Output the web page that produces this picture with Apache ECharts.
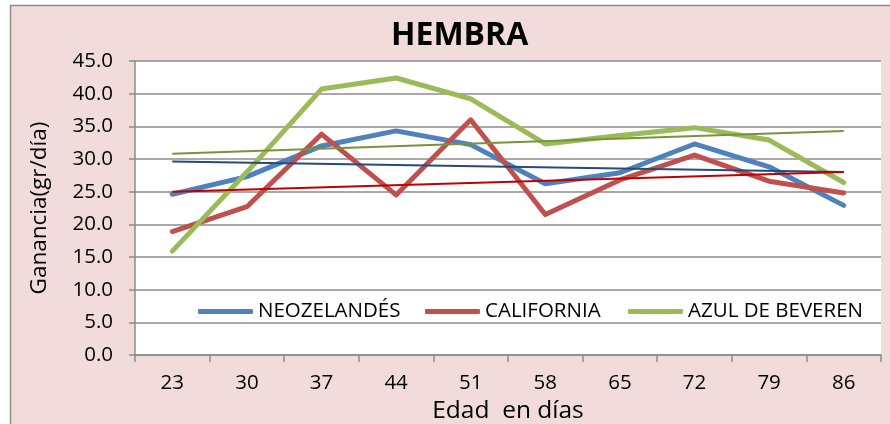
<!DOCTYPE html>
<html>
<head>
<meta charset="utf-8">
<script src="https://cdn.jsdelivr.net/npm/echarts@6/dist/echarts.min.js"></script>
<style>html,body{margin:0;padding:0;background:#fff;}#c{width:890px;height:424px;}</style>
</head>
<body>
<div id="c"></div>
<script>
var categories = ['23','30','37','44','51','58','65','72','79','86'];
var neozelandes = [24.6, 27.3, 32.0, 34.3, 32.2, 26.2, 27.9, 32.3, 28.8, 22.9];
var california  = [18.9, 22.7, 33.8, 24.5, 36.0, 21.5, 26.8, 30.6, 26.6, 24.8];
var azul        = [15.9, 28.0, 40.7, 42.4, 39.2, 32.3, 33.6, 34.8, 32.9, 26.4];
// linear trend lines (read at first and last category)
var trendNeo  = [29.6, null, null, null, null, null, null, null, null, 28.0];
var trendCal  = [25.0, null, null, null, null, null, null, null, null, 28.0];
var trendAzul = [30.8, null, null, null, null, null, null, null, null, 34.3];
var seriesNames = ['NEOZELANDÉS', 'CALIFORNIA', 'AZUL DE BEVEREN'];

var FONT = '"Open Sans", "DejaVu Sans", sans-serif';
var chart = echarts.init(document.getElementById('c'), null, {renderer: 'canvas'});

function legendAt(name, left) {
  return {
    data: [name], left: left, top: 301, orient: 'horizontal', padding: 0,
    icon: 'roundRect', itemWidth: 55, itemHeight: 5, itemGap: 5,
    textStyle: {fontFamily: FONT, fontSize: 20.5, color: '#000'},
    selectedMode: false
  };
}
function dataLine(name, data, color) {
  return {
    name: name, type: 'line', data: data, symbol: 'none',
    lineStyle: {color: color, width: 5, cap: 'round', join: 'round'},
    itemStyle: {color: color}, z: 2, animation: false
  };
}
function trendLine(data, color) {
  return {
    type: 'line', data: data, symbol: 'none', connectNulls: true,
    lineStyle: {color: color, width: 2}, z: 3, silent: true, animation: false
  };
}

chart.setOption({
  animation: false,
  backgroundColor: '#fff',
  graphic: [{
    type: 'rect', z: -10,
    shape: {x: 10.5, y: 5.5, width: 900, height: 440},
    style: {fill: '#F2DCDB', stroke: '#8C8C8C', lineWidth: 1.5}
  }],
  title: {
    text: 'HEMBRA', left: 391, top: 20, padding: 0,
    textStyle: {fontFamily: FONT, fontSize: 32, fontWeight: 'bold', color: '#000'}
  },
  legend: [legendAt(seriesNames[0], 198), legendAt(seriesNames[1], 425), legendAt(seriesNames[2], 628)],
  grid: {left: 135, right: 9, top: 61, bottom: 69, show: true, backgroundColor: '#fff', borderWidth: 0,
    containLabel: false, outerBoundsMode: 'none'},
  xAxis: {
    type: 'category', data: categories, boundaryGap: true,
    name: 'Edad  en días', nameLocation: 'middle', nameGap: 40,
    nameTextStyle: {fontFamily: FONT, fontSize: 24.5, color: '#000'},
    axisLine: {lineStyle: {color: '#8C8C8C', width: 1.5}},
    axisTick: {show: true, length: 7, lineStyle: {color: '#8C8C8C', width: 1.5}},
    axisLabel: {fontFamily: FONT, fontSize: 20.5, color: '#000', margin: 18}
  },
  yAxis: {
    type: 'value', min: 0, max: 45, interval: 5,
    name: 'Ganancia(gr/día)', nameLocation: 'middle', nameGap: 84,
    nameTextStyle: {fontFamily: FONT, fontSize: 22.5, color: '#000'},
    axisLine: {show: true, lineStyle: {color: '#8C8C8C', width: 1.5}},
    axisTick: {show: true, length: 6, lineStyle: {color: '#8C8C8C', width: 1.5}},
    axisLabel: {fontFamily: FONT, fontSize: 20.5, color: '#000', margin: 22,
      formatter: function (v) { return v.toFixed(1); }},
    splitLine: {lineStyle: {color: '#8C8C8C', width: 1.5}}
  },
  series: [
    dataLine(seriesNames[0], neozelandes, '#4F81BD'),
    dataLine(seriesNames[1], california, '#C0504D'),
    dataLine(seriesNames[2], azul, '#9BBB59'),
    trendLine(trendNeo, '#254A7C'),
    trendLine(trendCal, '#C00000'),
    trendLine(trendAzul, '#77933C')
  ]
});
</script>
</body>
</html>
